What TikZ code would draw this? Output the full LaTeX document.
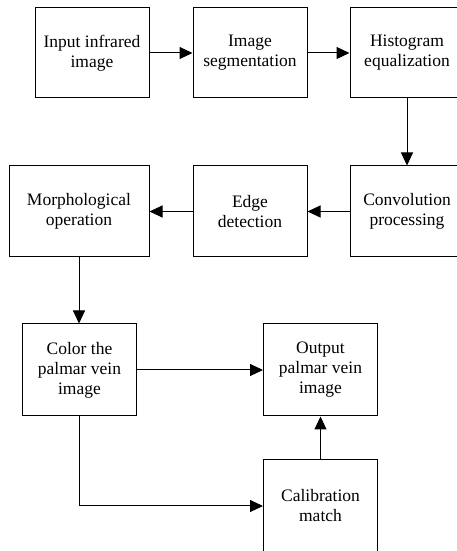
\documentclass[tikz,border=0pt]{standalone}
\usepackage{fontspec}
\setmainfont{Liberation Serif}
\usetikzlibrary{arrows.meta}

\tikzset{etape/.style = {draw, line width=1pt, inner sep=0pt, align=center,
                         minimum width=114pt, minimum height=#1,
                         font=\fontsize{17.5}{20}\selectfont},
         etape/.default=90pt,
         fleche/.style = {-{Triangle[length=13pt,width=12pt]}, line width=1pt}
        }

\begin{document}
\begin{tikzpicture}[x=1pt, y=1pt]
  \useasboundingbox (0,0) rectangle (457,551);
  % first row
  \node[etape] (entree)     at (92,498)    {Input infrared\\image};
  \node[etape] (segment)    at (250,498)   {Image\\segmentation};
  \node[etape] (histo)      at (407,498)   {Histogram\\equalization};
  % second row
  \node[etape=91pt] (convol) at (407,339.5) {Convolution\\processing};
  \node[etape=91pt] (contour) at (250,339.5) {Edge\\detection};
  \node[etape=91pt, minimum width=140pt] (morpho) at (79,339.5) {Morphological\\operation};
  % third row
  \node[etape=92pt] (couleur) at (79.5,181) {Color the\\palmar vein\\image};
  \node[etape=92pt] (sortie)  at (320.5,181) {Output\\palmar vein\\image};
  \node[etape=92pt] (calib) at (320.5,45) {Calibration\\match};

  \draw[fleche] (entree) -- (segment);
  \draw[fleche] (segment) -- (histo);
  \draw[fleche] (histo) -- (convol);
  \draw[fleche] (convol) -- (contour);
  \draw[fleche] (contour) -- (morpho);
  \draw[fleche] (morpho.south) -- (morpho.south |- couleur.north);
  \draw[fleche] (couleur) -- (sortie);
  \draw[fleche] (calib) -- (sortie);
  \draw[fleche] (couleur.south) |- (calib.west);
\end{tikzpicture}
\end{document}
